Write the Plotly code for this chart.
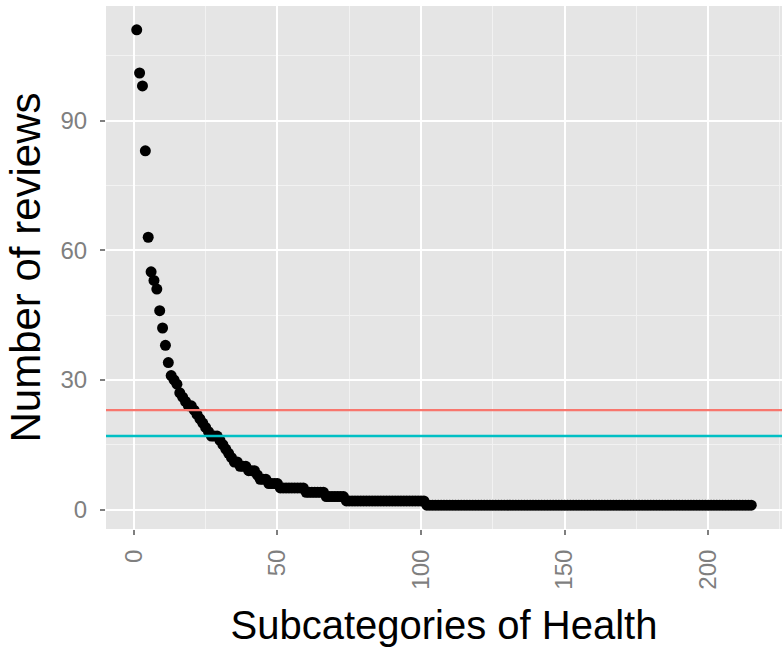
import plotly.graph_objects as go

# Review counts per subcategory, sorted in decreasing order
head_reviews = [111, 101, 98, 83, 63, 55, 53, 51, 46, 42, 38, 34,
                31, 30, 29, 27, 26, 25, 24, 24, 23, 22, 21, 20, 19, 18,
                17, 17, 17, 16, 15, 14, 13, 12, 11, 11, 10, 10, 10,
                9, 9, 9, 8, 7, 7, 7, 6, 6, 6, 6]
tail_levels = [5, 4, 3, 2, 1]
tail_counts = [9, 7, 7, 28, 114]

reviews = list(head_reviews)
for lvl, cnt in zip(tail_levels, tail_counts):
    reviews += [lvl] * cnt
ranks = list(range(1, len(reviews) + 1))

# horizontal reference levels
ref_levels = [23, 17]
ref_colors = ["#F8766D", "#00BFC4"]

x_ticks = [0, 50, 100, 150, 200]
y_ticks = [0, 30, 60, 90]

fig = go.Figure()
fig.add_trace(go.Scatter(
    x=ranks, y=reviews, mode="markers",
    marker=dict(color="black", size=11, line=dict(width=0)),
    showlegend=False, hoverinfo="x+y"))

for lvl, col in zip(ref_levels, ref_colors):
    fig.add_shape(type="line", xref="paper", x0=0, x1=1, yref="y", y0=lvl, y1=lvl,
                  line=dict(color=col, width=2.4), layer="above")

font_family = "Liberation Sans, Arial, Helvetica, sans-serif"
fig.update_layout(
    width=782, height=649,
    margin=dict(l=106, r=0, t=6, b=120, autoexpand=False),
    paper_bgcolor="white", plot_bgcolor="#E5E5E5",
    font=dict(family=font_family, color="black"),
    xaxis=dict(
        range=[-9.7, 225.7], tickvals=x_ticks, ticktext=[str(v) for v in x_ticks],
        tickangle=-90, tickfont=dict(size=24, color="#7F7F7F"),
        ticks="outside", ticklen=5, tickwidth=2, tickcolor="#7F7F7F",
        ticklabelstandoff=5,
        showgrid=True, gridcolor="white", gridwidth=2,
        minor=dict(dtick=25, tick0=0, showgrid=True, gridcolor="#F2F2F2", gridwidth=1, ticks=""),
        zeroline=False, showline=False, automargin=False,
        title=dict(text="Subcategories of Health", font=dict(size=40, color="black"), standoff=22),
    ),
    yaxis=dict(
        range=[-4.5, 116.5], tickvals=y_ticks, ticktext=[str(v) for v in y_ticks],
        tickfont=dict(size=24, color="#7F7F7F"),
        ticks="outside", ticklen=5, tickwidth=2, tickcolor="#7F7F7F",
        ticklabelstandoff=8,
        showgrid=True, gridcolor="white", gridwidth=2,
        minor=dict(dtick=15, tick0=0, showgrid=True, gridcolor="#F2F2F2", gridwidth=1, ticks=""),
        zeroline=False, showline=False, automargin=False,
        title=dict(text="Number of reviews", font=dict(size=42, color="black"), standoff=6),
    ),
)

fig.write_html("out.html")
